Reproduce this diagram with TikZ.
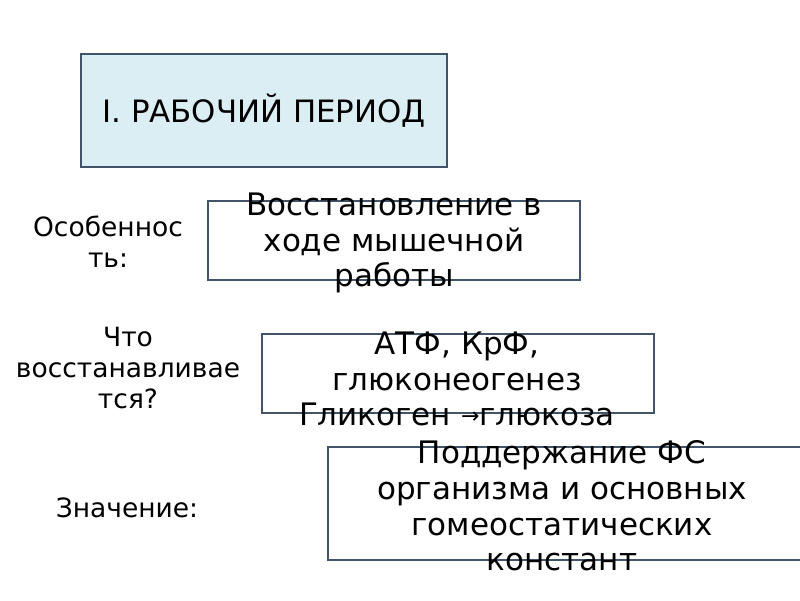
\documentclass[tikz,border=0pt]{standalone}
\usepackage{fontspec}
\setmainfont{DejaVu Sans}
\usetikzlibrary{positioning}
\definecolor{framecol}{RGB}{66,84,105}
\definecolor{titlefill}{RGB}{219,238,244}
\tikzstyle{title} = [rectangle, draw=framecol, line width=1.5pt, fill=titlefill,
    minimum width=366pt, minimum height=113pt, inner sep=0pt, font=\fontsize{30.8}{35}\selectfont]
\tikzstyle{block} = [rectangle, draw=framecol, line width=1.5pt, inner sep=0pt]
\tikzstyle{content} = [align=center, inner sep=0pt, font=\fontsize{31}{35.8}\selectfont]
\tikzstyle{caption} = [align=center, inner sep=0pt, font=\fontsize{26.5}{31}\selectfont]
\newcommand{\smallarrow}{\raisebox{2pt}{\fontsize{22}{22}\selectfont →}}

\begin{document}
\begin{tikzpicture}[x=1pt, y=-1pt]
    \useasboundingbox (0,0) rectangle (800,600);
    \clip (0,0) rectangle (800,600);
    % Place nodes
    \node [title] (period) at (264,110.5) {I. РАБОЧИЙ ПЕРИОД};
    \node [block, minimum width=372pt, minimum height=79pt] (feature) at (394,240.5) {};
    \node [block, minimum width=392pt, minimum height=79pt] (restore) at (458,373.5) {};
    \node [block, minimum width=500pt, minimum height=113pt] (meaning) at (578,503.5) {};
    % Box texts
    \node [content] (featuretext) at (394,243) {Восстановление в\\ходе мышечной\\работы};
    \node [content] (restoretext) at (457,379) {АТФ, КрФ,\\глюконеогенез\\Гликоген \smallarrow глюкоза};
    \node [content] (meaningtext) at (562,506) {Поддержание ФС\\организма и основных\\гомеостатических\\констант};
    % Captions on the left
    \node [caption] (featurecap) at (108,242) {Особеннос\\ть:};
    \node [caption] (restorecap) at (128,368) {Что\\восстанавливае\\тся?};
    \node [caption] (meaningcap) at (127,508) {Значение:};
\end{tikzpicture}
\end{document}
